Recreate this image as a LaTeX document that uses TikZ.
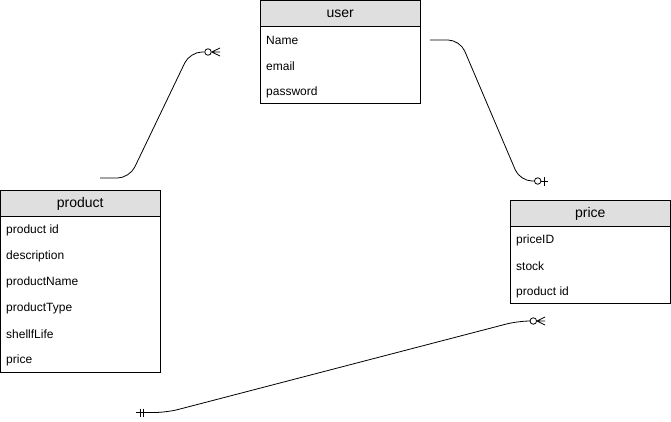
\documentclass[tikz,border=0pt]{standalone}
\usepackage{fontspec}
\setmainfont{Liberation Sans}
\begin{document}
\begin{tikzpicture}[x=1pt,y=-1pt,
  tablebox/.style={draw=black,line width=0.9pt,fill=white},
  headbox/.style={draw=black,line width=0.9pt,fill=gray!25},
  headtext/.style={font=\fontsize{14}{16}\selectfont,inner sep=0pt},
  rowtext/.style={font=\fontsize{12}{14}\selectfont,inner sep=0pt,anchor=west},
  link/.style={draw=black,line width=0.8pt,rounded corners=12pt},
  endmark/.style={draw=black,line width=0.8pt},
  ring/.style={draw=black,line width=0.8pt,fill=white,circle,minimum size=6.5pt,inner sep=0pt}]
\useasboundingbox (0,0) rectangle (671,422);
\fill[white] (0,0) rectangle (671,422);

% ---- table: user ----
\draw[tablebox] (260,0) rectangle (420.5,103.5);
\draw[headbox] (260,0) rectangle (420.5,26);
\node[headtext] (user) at (340.25,14) {user};
\node[rowtext] (uname) at (266,40.5) {Name};
\node[rowtext] (uemail) at (266,66.5) {email};
\node[rowtext] (upass) at (266,92.5) {password};

% ---- table: product ----
\draw[tablebox] (0.5,190) rectangle (160,372);
\draw[headbox] (0.5,190) rectangle (160,216);
\node[headtext] (product) at (80.25,204) {product};
\node[rowtext] (pid) at (6,230.5) {product id};
\node[rowtext] (pdesc) at (6,256.5) {description};
\node[rowtext] (pname) at (6,282.5) {productName};
\node[rowtext] (ptype) at (6,308.5) {productType};
\node[rowtext] (plife) at (6,334.5) {shellfLife};
\node[rowtext] (pprice) at (6,360.5) {price};

% ---- table: price ----
\draw[tablebox] (510,200) rectangle (670.5,303.5);
\draw[headbox] (510,200) rectangle (670.5,226);
\node[headtext] (price) at (590.25,214) {price};
\node[rowtext] (prid) at (516,240.5) {priceID};
\node[rowtext] (prstock) at (516,266.5) {stock};
\node[rowtext] (prpid) at (516,292.5) {product id};

% ---- relation: product -- user (zero or many) ----
\coordinate (a0) at (100,178);
\coordinate (a1) at (129.5,178);
\coordinate (a2) at (190,52);
\node[ring] (aring) at (208,52) {};
\coordinate (aend) at (220,52);
\draw[link] (a0) -- (a1) -- (a2) -- (aring.west);
\draw[endmark] (aring.east) -- (aend)
  (aring.east) -- (220,48) (aring.east) -- (220,56);

% ---- relation: user -- price (zero or one) ----
\coordinate (b0) at (430,40);
\coordinate (b1) at (460,40);
\coordinate (b2) at (520,181);
\node[ring] (bring) at (537.7,181) {};
\coordinate (bend) at (548,181);
\draw[link] (b0) -- (b1) -- (b2) -- (bring.west);
\draw[endmark] (bring.east) -- (bend) (544,177) -- (544,185.5);

% ---- relation: product -- price (one and only one / zero or many) ----
\coordinate (c0) at (136,412.5);
\coordinate (c1) at (166.6,412.5);
\coordinate (c2) at (518,321);
\node[ring] (cring) at (533.3,321) {};
\coordinate (cend) at (545,321);
\draw[link] (c0) -- (c1) -- (c2) -- (cring.west);
\draw[endmark] (cring.east) -- (cend)
  (cring.east) -- (545,317) (cring.east) -- (545,325);
\draw[endmark] (140,408.5) -- (140,416.5) (143.5,408.5) -- (143.5,416.5);
\end{tikzpicture}
\end{document}
